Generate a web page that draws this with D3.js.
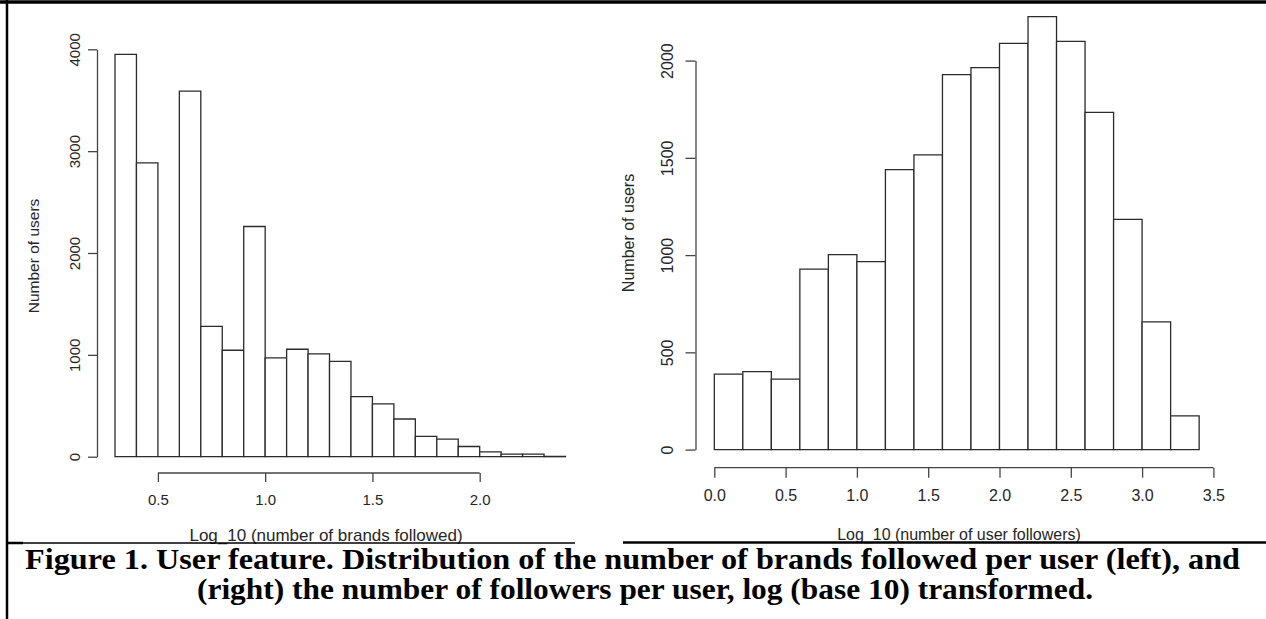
<!DOCTYPE html>
<html>
<head>
<meta charset="utf-8">
<script src="https://d3js.org/d3.v7.min.js"></script>
<style>
  body { margin: 0; background: #fff; }
  svg { display: block; }
  .axis-title { font-family: "Liberation Sans", Arial, sans-serif; fill: #262626; }
  .caption { font-family: "Liberation Serif", "Times New Roman", serif; font-weight: bold; fill: #000; }
</style>
</head>
<body>
<svg id="figure" width="1266" height="619"></svg>
<script>
/*
  Figure 1: two R-style histograms of user features, log10 transformed.
*/

// left histogram: brands followed per user, bins of 0.1 starting at 0.3
var brandBinStarts = [0.3, 0.4, 0.5, 0.6, 0.7, 0.8, 0.9, 1.0, 1.1, 1.2, 1.3,
                      1.4, 1.5, 1.6, 1.7, 1.8, 1.9, 2.0, 2.1, 2.2, 2.3];
var brandCounts = [3950, 2885, 0, 3590, 1280, 1045, 2260, 970, 1055, 1010, 935,
                   590, 518, 370, 200, 172, 100, 48, 26, 26, 3];
var brandBinWidth = 0.1;
var brandXTicks = [0.5, 1.0, 1.5, 2.0];
var brandYTicks = [0, 1000, 2000, 3000, 4000];

// right histogram: followers per user, bins of 0.2 starting at 0.0
var followerBinStarts = [0.0, 0.2, 0.4, 0.6, 0.8, 1.0, 1.2, 1.4, 1.6, 1.8, 2.0,
                         2.2, 2.4, 2.6, 2.8, 3.0, 3.2];
var followerCounts = [388, 401, 362, 928, 1002, 966, 1439, 1515, 1928, 1964, 2089,
                      2226, 2099, 1734, 1184, 657, 173];
var followerBinWidth = 0.2;
var followerXTicks = [0.0, 0.5, 1.0, 1.5, 2.0, 2.5, 3.0, 3.5];
var followerYTicks = [0, 500, 1000, 1500, 2000];

var captionLines = [
  "Figure 1. User feature. Distribution of the number of brands followed per user (left), and",
  "(right) the number of followers per user, log (base 10) transformed."
];

var svg = d3.select("#figure");

function drawHistogram(opts) {
  /*   Draws one base-R looking histogram with detached axes.
       Args:
         opts    scales, data and label positions for one panel.
  */

  var x = opts.x;
  var y = opts.y;
  var g = svg.append("g");

  // bars as paths, so that empty bins still leave their baseline
  g.selectAll("path.bar")
    .data(opts.starts)
    .enter().append("path")
    .attr("class", "bar")
    .attr("fill", "#fff")
    .attr("stroke", "#2b2b2b")
    .attr("stroke-width", 1.3)
    .attr("d", function(d, i) {
      var x0 = x(d), x1 = x(d + opts.binWidth);
      var y0 = y(0), y1 = y(opts.counts[i]);
      return "M" + x0 + "," + y0 + "V" + y1 + "H" + x1 + "V" + y0 + "Z";
    });

  // x axis, its line only runs between the outer ticks
  var xAxis = g.append("g")
    .attr("transform", "translate(0," + opts.xAxisY + ")")
    .call(d3.axisBottom(x).tickValues(opts.xTicks).tickSize(opts.tickLen)
      .tickPadding(opts.xPad).tickFormat(d3.format(".1f")));
  xAxis.select(".domain").remove();
  xAxis.append("line")
    .attr("x1", x(opts.xTicks[0]))
    .attr("x2", x(opts.xTicks[opts.xTicks.length - 1]))
    .attr("stroke", "#444")
    .attr("stroke-width", 1.3);

  // y axis with labels parallel to it
  var yAxis = g.append("g")
    .attr("transform", "translate(" + opts.yAxisX + ",0)")
    .call(d3.axisLeft(y).tickValues(opts.yTicks).tickSize(opts.tickLen)
      .tickSizeOuter(0).tickFormat(d3.format("d")));
  yAxis.select(".domain").attr("stroke", "#444").attr("stroke-width", 1.3);
  yAxis.selectAll(".tick text")
    .attr("x", 0)
    .attr("y", opts.yLabelOffset)
    .attr("dy", "0.35em")
    .attr("transform", "rotate(-90)")
    .style("text-anchor", "middle");

  g.selectAll(".tick line").attr("stroke", "#444").attr("stroke-width", 1.3);
  g.selectAll(".tick text")
    .style("font-size", opts.tickFont + "px")
    .style("font-family", "Liberation Sans, Arial, sans-serif")
    .attr("fill", "#262626");

  // axis titles
  g.append("text")
    .attr("class", "axis-title")
    .attr("x", opts.xTitle[0])
    .attr("y", opts.xTitle[1])
    .attr("dy", "0.35em")
    .style("text-anchor", "middle")
    .style("font-size", opts.xTitleFont + "px")
    .text(opts.xLabel);

  g.append("text")
    .attr("class", "axis-title")
    .attr("transform", "translate(" + opts.yTitle[0] + "," + opts.yTitle[1] + ") rotate(-90)")
    .attr("dy", "0.35em")
    .style("text-anchor", "middle")
    .style("font-size", opts.yTitleFont + "px")
    .text("Number of users");
}

// left panel
drawHistogram({
  x: d3.scaleLinear().domain([0.3, 2.4]).range([115, 565.5]),
  y: d3.scaleLinear().domain([0, 4000]).range([456.7, 49.3]),
  starts: brandBinStarts,
  counts: brandCounts,
  binWidth: brandBinWidth,
  xTicks: brandXTicks,
  yTicks: brandYTicks,
  xAxisY: 473,
  yAxisX: 97,
  tickLen: 9,
  xPad: 12,
  yLabelOffset: -22,
  tickFont: 15,
  xTitleFont: 17,
  yTitleFont: 15.5,
  xLabel: "Log_10 (number of brands followed)",
  xTitle: [326, 535],
  yTitle: [34, 256]
});

// right panel
drawHistogram({
  x: d3.scaleLinear().domain([0, 3.5]).range([714.3, 1213.4]),
  y: d3.scaleLinear().domain([0, 2000]).range([449.6, 60.6]),
  starts: followerBinStarts,
  counts: followerCounts,
  binWidth: followerBinWidth,
  xTicks: followerXTicks,
  yTicks: followerYTicks,
  xAxisY: 467.7,
  yAxisX: 695.5,
  tickLen: 10,
  xPad: 12,
  yLabelOffset: -28,
  tickFont: 16,
  xTitleFont: 16,
  yTitleFont: 16,
  xLabel: "Log_10 (number of user followers)",
  xTitle: [959, 534],
  yTitle: [628, 233]
});

// frame of the figure
svg.append("line").attr("x1", 0).attr("x2", 1266).attr("y1", 2).attr("y2", 2)
  .attr("stroke", "#000").attr("stroke-width", 3.5);
svg.append("line").attr("x1", 7).attr("x2", 7).attr("y1", 0).attr("y2", 619)
  .attr("stroke", "#000").attr("stroke-width", 2.5);
svg.append("line").attr("x1", 6).attr("x2", 23).attr("y1", 543).attr("y2", 543)
  .attr("stroke", "#000").attr("stroke-width", 2.5);
svg.append("line").attr("x1", 23).attr("x2", 575).attr("y1", 543).attr("y2", 543)
  .attr("stroke", "#000").attr("stroke-width", 1.5);
svg.append("line").attr("x1", 623).attr("x2", 1266).attr("y1", 542.5).attr("y2", 542.5)
  .attr("stroke", "#000").attr("stroke-width", 2.5);

// caption, stretched to the width it has in the figure
var captionX = [25, 197];
var captionWidth = [1215, 896];
svg.selectAll("text.caption")
  .data(captionLines)
  .enter().append("text")
  .attr("class", "caption")
  .attr("x", function(d, i) { return captionX[i]; })
  .attr("y", function(d, i) { return 568.5 + i * 30; })
  .attr("textLength", function(d, i) { return captionWidth[i]; })
  .attr("lengthAdjust", "spacingAndGlyphs")
  .style("font-size", "29px")
  .text(function(d) { return d; });
</script>
</body>
</html>
